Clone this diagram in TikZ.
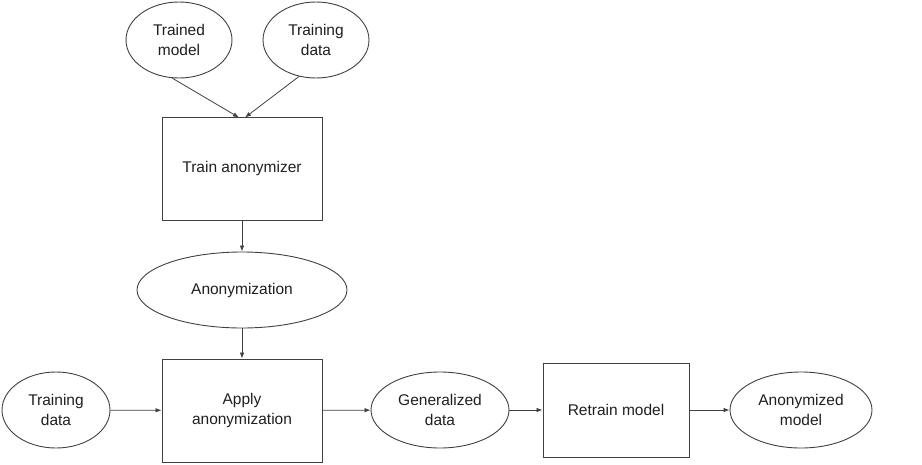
\documentclass[tikz,border=0pt]{standalone}
\usepackage{fontspec}
\setmainfont{Liberation Sans}
\usetikzlibrary{shapes.geometric,arrows.meta}
\begin{document}
\begin{tikzpicture}[x=1pt,y=-1pt,
  font=\fontsize{15.5}{19.5}\selectfont,
  ell/.style={ellipse,draw=black!75,line width=0.9pt,inner sep=0pt,align=center,text=black!88},
  box/.style={rectangle,draw=black!75,line width=0.9pt,inner sep=0pt,align=center,text=black!88},
  arr/.style={draw=black!75,line width=0.8pt,-{Latex[length=6pt,width=4.5pt]}}]
\useasboundingbox (0,0) rectangle (922,464);
\node[ell,minimum width=106pt,minimum height=76pt] (tm) at (179,40) {Trained\\model};
\node[ell,minimum width=106pt,minimum height=76pt] (td1) at (316,40) {Training\\data};
\node[box,minimum width=160pt,minimum height=103pt] (ta) at (242,168.5) {Train anonymizer};
\node[ell,minimum width=210pt,minimum height=76pt] (an) at (242,290) {Anonymization};
\node[box,minimum width=160pt,minimum height=103pt] (aa) at (242,410.5) {Apply\\anonymization};
\node[ell,minimum width=108pt,minimum height=76pt] (td2) at (56,410) {Training\\data};
\node[ell,minimum width=138pt,minimum height=76pt] (gd) at (440,410) {Generalized\\data};
\node[box,minimum width=146pt,minimum height=94pt] (rm) at (616,410) {Retrain model};
\node[ell,minimum width=142pt,minimum height=76pt] (am) at (801,410) {Anonymized\\model};
\coordinate (t1) at (239,117.5);
\coordinate (t2) at (245,117.5);
\draw[arr] (tm.-100) -- (t1);
\draw[arr] (td1.-115) -- (t2);
\draw[arr] (ta) -- (an);
\draw[arr] (an) -- (aa);
\draw[arr] (td2) -- (aa);
\draw[arr] (aa) -- (gd);
\draw[arr] (gd) -- (rm);
\draw[arr] (rm) -- (am);
\end{tikzpicture}
\end{document}
